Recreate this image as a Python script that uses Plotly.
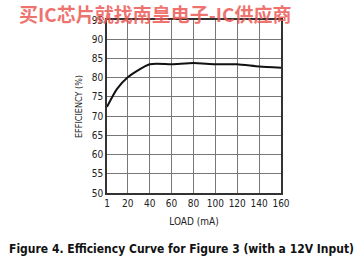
import plotly.graph_objects as go

load_ma = [1, 10, 20, 40, 60, 80, 100, 120, 140, 160]
efficiency = [72.4, 77.0, 80.1, 83.5, 83.5, 83.8, 83.5, 83.5, 82.9, 82.6]
x_ticks = [1, 20, 40, 60, 80, 100, 120, 140, 160]
y_ticks = [50, 55, 60, 65, 70, 75, 80, 85, 90, 95]

narrow = "DejaVu Sans Condensed, Liberation Sans Narrow, sans-serif"

fig = go.Figure()
fig.add_trace(go.Scatter(x=load_ma, y=efficiency, mode="lines",
                         line=dict(color="#111111", width=2, shape="spline", smoothing=0.6),
                         hoverinfo="skip", showlegend=False))

fig.update_layout(
    width=364, height=270,
    margin=dict(l=107, r=83, t=20, b=77),
    paper_bgcolor="white", plot_bgcolor="white",
    font=dict(family=narrow, size=10, color="#222222"),
    xaxis=dict(range=[1, 160], tickvals=x_ticks, ticktext=[str(v) for v in x_ticks],
               showgrid=True, gridcolor="#777777", gridwidth=1,
               showline=True, linecolor="#333333", linewidth=1.5, mirror=True,
               ticks="", zeroline=False,
               title=dict(text="LOAD (mA)", standoff=10, font=dict(size=10, family=narrow))),
    yaxis=dict(range=[50, 95], tickvals=y_ticks,
               showgrid=True, gridcolor="#777777", gridwidth=1,
               showline=True, linecolor="#333333", linewidth=1.5, mirror=True,
               ticks="", zeroline=False,
               title=dict(text="EFFICIENCY (%)", standoff=8, font=dict(size=9, family=narrow))),
    annotations=[
        dict(text="<b>Figure 4. Efficiency Curve for Figure 3 (with a 12V Input)</b>",
             xref="paper", yref="paper", x=0.5, y=0, xshift=-13, yshift=-56,
             xanchor="center", yanchor="middle", showarrow=False,
             font=dict(family=narrow, size=12, color="#111111")),
        dict(text="<b>买IC芯片就找南皇电子-IC供应商</b>",
             xref="paper", yref="paper", x=0, y=1, xshift=-90, yshift=7,
             xanchor="left", yanchor="middle", showarrow=False,
             font=dict(family="Noto Sans CJK SC", size=19, color="rgba(236,90,85,0.85)")),
    ],
)

fig.write_html("out.html")
